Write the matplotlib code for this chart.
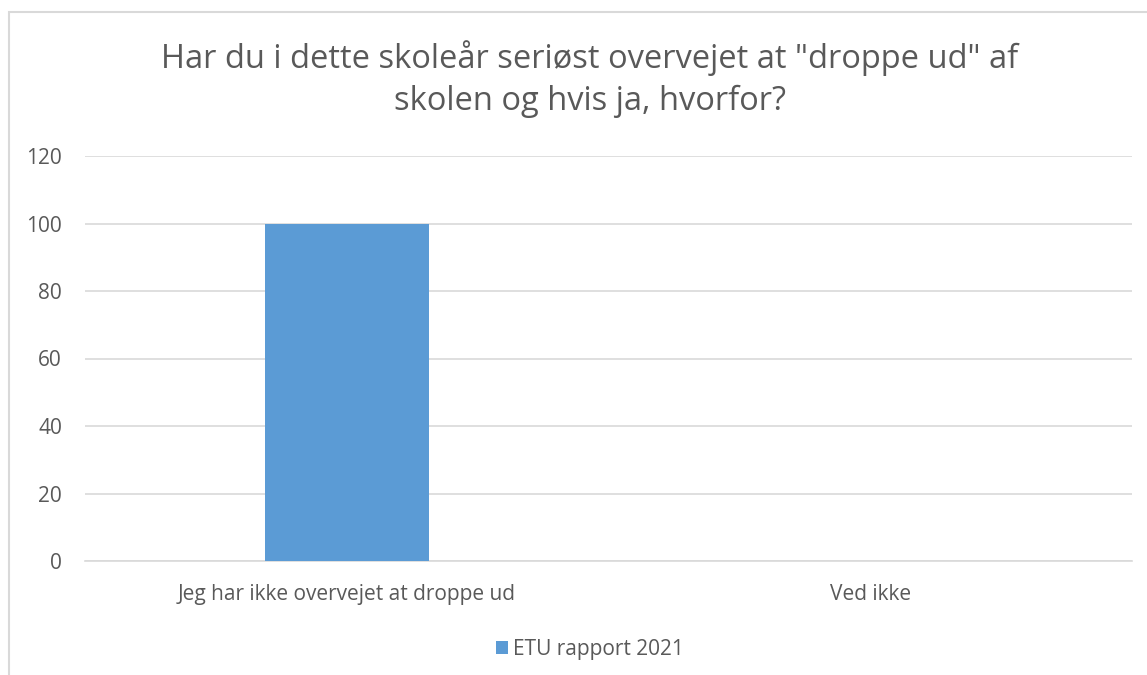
import matplotlib
matplotlib.use("Agg")
import matplotlib.pyplot as plt
from matplotlib.patches import Rectangle

categories = ["Jeg har ikke overvejet at droppe ud", "Ved ikke"]
values = [100, 0]
series_name = "ETU rapport 2021"
yticks = [0, 20, 40, 60, 80, 100, 120]
title = 'Har du i dette skoleår seriøst overvejet at "droppe ud" af\nskolen og hvis ja, hvorfor?'

W, H = 1147, 675
plt.rcParams['font.family'] = ['Open Sans', 'DejaVu Sans']
fig = plt.figure(figsize=(W / 100, H / 100), dpi=100)

# chart border (left and top visible)
fig.patches.append(Rectangle((9 / W, -0.1), 1.2, (H - 12) / H + 0.1, transform=fig.transFigure,
                             fill=False, edgecolor='#d9d9d9', linewidth=1.5))

ax = fig.add_axes([85 / W, (H - 561) / H, 1047 / W, (561 - 156) / H])
x = list(range(len(categories)))
ax.bar(x, values, width=0.313, color='#5B9BD5', label=series_name, zorder=3)
ax.set_xlim(-0.5, len(categories) - 0.5)
ax.set_ylim(0, 120)
ax.set_yticks(yticks)
ax.set_yticklabels([str(v) for v in yticks], fontsize=15, color='#595959')
ax.set_xticks(x)
ax.set_xticklabels(categories, fontsize=15, color='#595959')
ax.tick_params(axis='both', length=0)
ax.tick_params(axis='y', pad=16.5)
ax.tick_params(axis='x', pad=16.5)
ax.grid(axis='y', color='#d9d9d9', linewidth=1.2, zorder=0)
for s in ['top', 'right', 'left']:
    ax.spines[s].set_visible(False)
ax.spines['bottom'].set_color('#d9d9d9')
ax.spines['bottom'].set_linewidth(1.2)

fig.text(590 / W, 1 - 79 / H, title, ha='center', va='center', fontsize=23.5,
         color='#595959', linespacing=1.32)

leg = fig.legend(loc='center', bbox_to_anchor=(590 / W, 1 - 649 / H), frameon=False,
                 fontsize=15, handlelength=0.6, handleheight=0.6, handletextpad=0.25)
for t in leg.get_texts():
    t.set_color('#595959')

fig.savefig("out.png", dpi=100, facecolor='white')
